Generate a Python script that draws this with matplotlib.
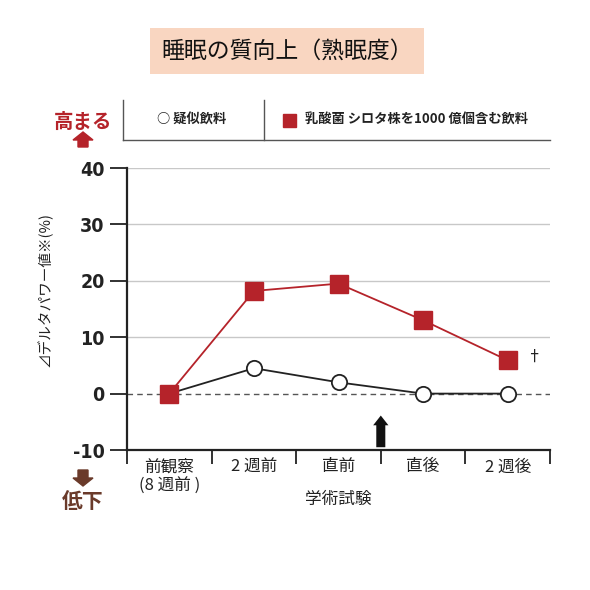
import matplotlib
matplotlib.use("Agg")
import matplotlib.pyplot as plt
import numpy as np

plt.rcParams['font.family'] = ['Noto Sans CJK JP', 'DejaVu Sans']

# data
categories = ['前観察\n(8 週前 )', '2 週前', '直前', '直後', '2 週後']
placebo = [0, 4.5, 2.0, 0, 0]
shirota = [0, 18.2, 19.5, 13.0, 5.9]
yticks = [-10, 0, 10, 20, 30, 40]

red = '#b5232a'
brown = '#6a3a2a'

fig = plt.figure(figsize=(5.9, 5.9), dpi=100)
ax = fig.add_axes([127 / 590, 1 - 450 / 590, 423 / 590, 282 / 590])

x = np.arange(len(categories))
for yv in [10, 20, 30, 40]:
    ax.axhline(yv, color='#c8c8c8', lw=1, zorder=0)
ax.axhline(0, color='#555555', lw=1, ls=(0, (4, 3)), zorder=0)

ax.plot(x, placebo, color='#222222', lw=1.3, marker='o', ms=11,
        mfc='white', mec='#222222', mew=1.3, zorder=3)
ax.plot(x, shirota, color=red, lw=1.3, marker='s', ms=13,
        mfc=red, mec=red, zorder=4)
ax.text(x[-1] + 0.22, shirota[-1] + 0.6, '†', fontsize=11, va='center',
        ha='left', color='#222222')

# exam arrow
ax.annotate('', xy=(2.5, -3.4), xytext=(2.5, -10),
            arrowprops=dict(arrowstyle='simple,head_width=1.1,head_length=0.7,tail_width=0.65',
                            color='#111111', lw=0))

ax.set_xlim(-0.5, 4.5)
ax.set_ylim(-10, 40)
ax.set_yticks(yticks)
ax.set_yticklabels([str(v) for v in yticks], fontsize=14, fontweight='bold',
                   family='DejaVu Sans', fontstretch='condensed', color='#222222')
ax.set_xticks(np.arange(-0.5, 5, 1))
ax.set_xticklabels([])
ax.set_xticks(x, minor=True)
ax.set_xticklabels(categories, minor=True, fontsize=12, color='#222222')
ax.tick_params(axis='x', which='minor', length=0, pad=6)
ax.tick_params(axis='x', which='major', length=10, width=1.3, color='#222222')
ax.tick_params(axis='y', length=12, width=1.3, color='#222222', pad=4)
for s in ['top', 'right']:
    ax.spines[s].set_visible(False)
for s in ['left', 'bottom']:
    ax.spines[s].set_linewidth(1.6)
    ax.spines[s].set_color('#222222')
ax.set_xlabel('学術試験', fontsize=12, color='#222222', labelpad=-3)
ax.set_ylabel('⊿デルタパワー値※(%)', fontsize=10.5, color='#222222')
ax.yaxis.set_label_coords(-0.175, 0.57)

# title
fig.text(287 / 590, 1 - 51 / 590, '睡眠の質向上（熟眠度）', fontsize=16.5,
         ha='center', va='center', color='#111111',
         bbox=dict(boxstyle='square,pad=0.5', fc='#f9d6c1', ec='none'))

# legend box lines
fig.add_artist(plt.Line2D([123 / 590, 550 / 590], [1 - 140 / 590] * 2,
                          color='#555555', lw=1))
for xv in [123, 264]:
    fig.add_artist(plt.Line2D([xv / 590] * 2, [1 - 100 / 590, 1 - 140 / 590],
                              color='#555555', lw=1))
fig.text(192 / 590, 1 - 120 / 590, '○ 疑似飲料', fontsize=9.5, fontweight='bold',
         ha='center', va='center', color='#222222')
fig.add_artist(plt.Rectangle((283 / 590, 1 - 127 / 590), 13 / 590, 13 / 590,
                             color=red, transform=fig.transFigure))
fig.text(305 / 590, 1 - 120 / 590, '乳酸菌 シロタ株を1000 億個含む飲料', fontsize=9.5,
         fontweight='bold', ha='left', va='center', color='#222222')

# side labels
fig.text(83 / 590, 1 - 122 / 590, '高まる', fontsize=14, fontweight='bold',
         ha='center', va='center', color=red)
fig.add_artist(plt.Polygon([[73 / 590, 1 - 140 / 590], [83 / 590, 1 - 132 / 590],
                            [93 / 590, 1 - 140 / 590], [88 / 590, 1 - 140 / 590],
                            [88 / 590, 1 - 147 / 590], [78 / 590, 1 - 147 / 590],
                            [78 / 590, 1 - 140 / 590]],
                           closed=True, color=red, transform=fig.transFigure))
fig.add_artist(plt.Polygon([[73 / 590, 1 - 478 / 590], [83 / 590, 1 - 486 / 590],
                            [93 / 590, 1 - 478 / 590], [88 / 590, 1 - 478 / 590],
                            [88 / 590, 1 - 470 / 590], [78 / 590, 1 - 470 / 590],
                            [78 / 590, 1 - 478 / 590]],
                           closed=True, color=brown, transform=fig.transFigure))
fig.text(83 / 590, 1 - 502 / 590, '低下', fontsize=15, fontweight='bold',
         ha='center', va='center', color=brown)

fig.savefig('out.png', dpi=100, facecolor='white')
